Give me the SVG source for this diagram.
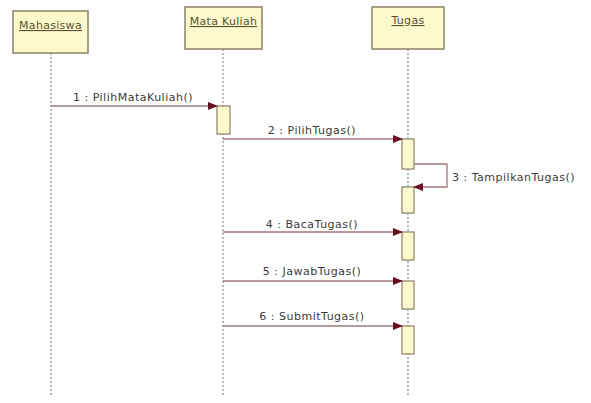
<svg xmlns="http://www.w3.org/2000/svg" width="591" height="403" viewBox="0 0 591 403">
<defs>
<style>
.box{fill:#fdf9cc;stroke:#8c8068;stroke-width:1.5}
.act{fill:#fdf9cc;stroke:#8c8068;stroke-width:1.2}
.life{stroke:#8a8a8a;stroke-width:1.2;stroke-dasharray:2,2;fill:none}
.msg{stroke:#a07878;stroke-width:1.3;fill:none}
.t{font-family:"DejaVu Sans","Liberation Sans",sans-serif;font-size:11px;letter-spacing:0.5px;fill:#3a3a3a}
.h{font-family:"DejaVu Sans","Liberation Sans",sans-serif;font-size:11px;letter-spacing:0.3px;fill:#5a5030;text-decoration:underline;text-anchor:middle}
</style>
<marker id="arr" markerWidth="10" markerHeight="8" refX="9" refY="4" orient="auto" markerUnits="userSpaceOnUse">
<path d="M0,0 L10,4 L0,8 Z" fill="#6a0a1e"/>
</marker>
</defs>
<rect width="591" height="403" fill="#ffffff"/>
<g id="lifelines">
<line class="life" x1="51" y1="53" x2="51" y2="396"/>
<line class="life" x1="223" y1="49" x2="223" y2="396"/>
<line class="life" x1="408" y1="49" x2="408" y2="396"/>
</g>
<g id="mahasiswa">
<rect class="box" x="13" y="11" width="75" height="42"/>
<text class="h" x="50.5" y="29">Mahasiswa</text>
</g>
<g id="matakuliah">
<rect class="box" x="185" y="7" width="77" height="42"/>
<text class="h" x="223.5" y="25">Mata Kuliah</text>
</g>
<g id="tugas">
<rect class="box" x="372" y="7" width="72" height="42"/>
<text class="h" x="408" y="24">Tugas</text>
</g>
<g id="activations">
<rect class="act" x="217" y="106" width="13" height="28"/>
<rect class="act" x="402" y="139" width="12" height="30"/>
<rect class="act" x="402" y="187" width="12" height="26"/>
<rect class="act" x="402" y="232" width="12" height="28"/>
<rect class="act" x="402" y="281" width="12" height="28"/>
<rect class="act" x="402" y="326" width="12" height="28"/>
</g>
<g id="connectors">
<line class="msg" x1="51" y1="106" x2="217" y2="106" marker-end="url(#arr)"/>
<line class="msg" x1="223" y1="139" x2="402" y2="139" marker-end="url(#arr)"/>
<polyline class="msg" points="414,164 447,164 447,187 414,187" marker-end="url(#arr)"/>
<line class="msg" x1="223" y1="232" x2="402" y2="232" marker-end="url(#arr)"/>
<line class="msg" x1="223" y1="281" x2="402" y2="281" marker-end="url(#arr)"/>
<line class="msg" x1="223" y1="326" x2="402" y2="326" marker-end="url(#arr)"/>
</g>
<g id="labels">
<text class="t" x="133" y="101" text-anchor="middle">1 : PilihMataKuliah()</text>
<text class="t" x="312" y="134" text-anchor="middle">2 : PilihTugas()</text>
<text class="t" x="452" y="181">3 : TampilkanTugas()</text>
<text class="t" x="312" y="228" text-anchor="middle">4 : BacaTugas()</text>
<text class="t" x="312" y="275" text-anchor="middle">5 : JawabTugas()</text>
<text class="t" x="312" y="320" text-anchor="middle">6 : SubmitTugas()</text>
</g>
</svg>
